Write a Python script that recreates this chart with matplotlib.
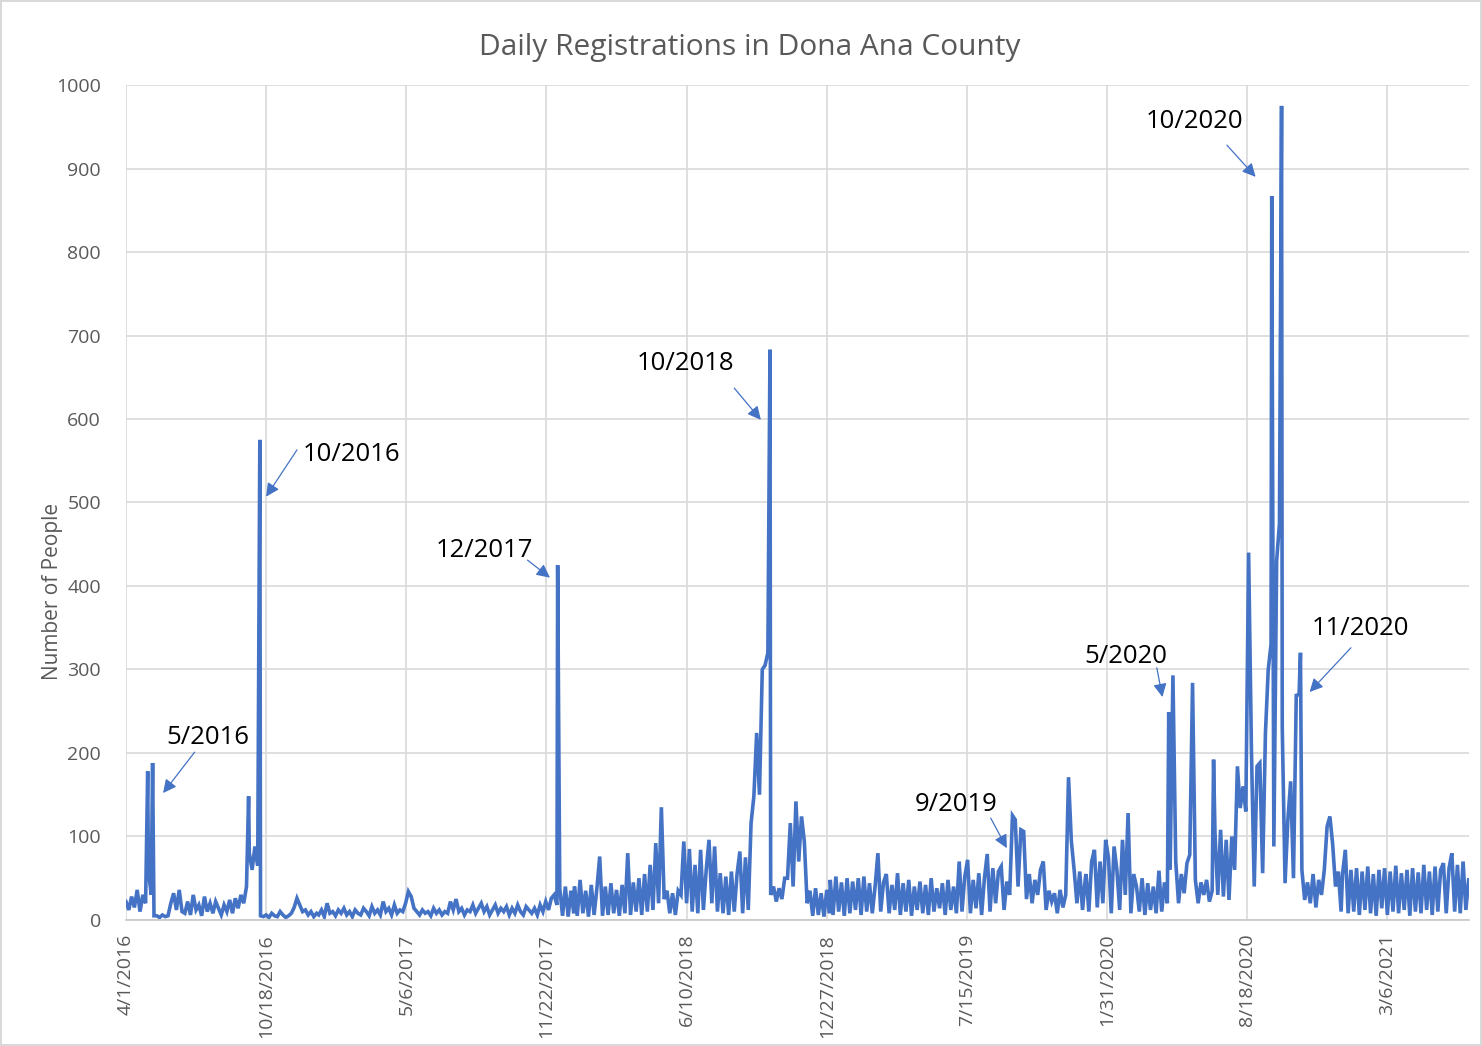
import pandas as pd
import matplotlib
matplotlib.use("Agg")
import matplotlib.pyplot as plt

vals_2016 = [22, 12, 28, 15, 36, 10, 30, 20,
             60, 30, 5,
             5, 3, 6, 4, 5,
             20, 32, 12, 36, 10,
             8, 22, 6, 30, 12, 18, 5, 28, 10, 20, 8, 22, 14, 6, 18, 10, 24, 8, 26, 14, 30, 20,
             40, 80, 60, 88, 65,
             5, 4, 6, 3, 8, 5, 4, 10, 6, 3, 5, 8, 15, 26, 18, 10, 12, 6, 10, 4, 8]
vals_2017 = [6, 12, 4, 20, 8, 10, 5, 12,
             8, 14, 6, 10, 4, 12, 8,
             6, 14, 10, 5, 16, 8, 12, 6,
             22, 10, 14, 6, 18, 8, 12, 10,
             20, 34, 28, 14, 10, 6, 12, 8,
             10, 5, 14, 8, 12, 6, 10,
             8, 22, 12, 25, 10, 14, 6, 12,
             10, 18, 8, 14, 20, 10, 16, 6,
             12, 18, 8, 14, 10, 16, 6,
             14, 8, 18, 10, 6, 16, 12, 8,
             14, 6, 18, 10, 22, 12, 26,
             30, 18, 38, 5, 40, 4, 35, 8]
vals_2018 = [40, 5, 48, 8, 35, 4, 42, 6,
             38, 76, 5, 40, 6, 44, 8,
             36, 5, 42, 8, 80, 6, 45, 10,
             50, 6, 55, 10, 66, 12, 92,
             20, 135, 25, 35, 8, 32, 6, 35,
             30, 94, 20, 85, 10, 66, 8,
             84, 12, 60, 96, 20, 88, 10, 56,
             8, 52, 6, 58, 10, 55, 82, 8,
             75, 12, 116, 148, 224, 150, 300,
             305, 320, 30, 40, 22, 38, 25, 50,
             50, 116, 40, 142, 70, 124, 94, 20,
             35, 5, 38, 6, 32, 4, 36, 8]
vals_2019 = [48, 6, 52, 10, 45, 5, 50, 8,
             46, 12, 50, 6, 52, 10, 44, 8,
             40, 80, 10, 45, 55, 8, 42, 12,
             56, 6, 44, 10, 48, 5, 40, 12,
             46, 8, 42, 6, 50, 10, 38, 14,
             44, 6, 48, 12, 40, 8, 70, 10,
             52, 72, 8, 48, 14, 56, 6, 50,
             79, 10, 62, 20, 58, 64, 12, 46,
             30, 125, 120, 40, 108, 106, 25, 55,
             20, 48, 30, 60, 70, 12, 35, 22,
             32, 8, 36, 15, 30, 171, 95, 60,
             20, 58, 12, 50]
vals_2020 = [55, 10, 70, 84, 15, 70, 20, 96,
             75, 8, 88, 60, 12, 96, 30, 128,
             8, 55, 40, 10, 50, 6, 44, 12,
             40, 8, 59, 10, 45, 20, 60, 12,
             70, 20, 55, 32, 68, 78, 25, 48,
             20, 45, 30, 48, 22, 35, 104, 30,
             108, 28, 96, 24, 100, 60, 184, 134,
             160, 130, 150, 204, 40, 184, 188, 56,
             224, 300, 330, 88, 430, 475, 231, 44,
             120, 166, 50, 269, 270, 60, 24, 45,
             20, 55, 15, 48, 30, 60, 112, 124,
             90, 40, 58, 10]
vals_2021 = [55, 84, 8, 60, 10, 62, 6, 58,
             12, 64, 8, 55, 5, 60, 14, 62,
             6, 58, 10, 65, 8, 56, 12, 60,
             5, 62, 10, 57, 8, 66, 12, 58,
             6, 64, 10, 60, 68, 8, 62, 80,
             10, 66, 8, 70, 12, 48]

segments = [("2016-04-01", vals_2016), ("2017-01-01", vals_2017),
            ("2018-01-01", vals_2018), ("2019-01-01", vals_2019),
            ("2020-01-01", vals_2020), ("2021-01-01", vals_2021)]

# single-day spikes
peak_dates = ["2016-05-02", "2016-05-09", "2016-09-23", "2016-10-09", "2017-12-08",
              "2018-10-07", "2020-04-28", "2020-05-04", "2020-06-01", "2020-07-01",
              "2020-08-20", "2020-09-22", "2020-10-06", "2020-11-02"]
peak_values = [178, 188, 148, 575, 425, 683, 249, 293, 284, 192, 440, 867, 975, 320]

# annotations: label, text centre, arrow tail, arrow head (date, value)
notes = [("5/2016", ("2016-07-27", 218), ("2016-07-08", 201), ("2016-05-24", 152)),
         ("10/2016", ("2017-02-17", 557), ("2016-12-01", 563), ("2016-10-18", 507)),
         ("12/2017", ("2017-08-25", 442), ("2017-10-26", 431), ("2017-11-27", 410)),
         ("10/2018", ("2018-06-08", 666), ("2018-08-17", 637), ("2018-09-24", 599)),
         ("9/2019", ("2019-06-29", 138), ("2019-08-18", 122), ("2019-09-10", 86)),
         ("5/2020", ("2020-02-27", 315), ("2020-04-11", 302), ("2020-04-19", 267)),
         ("10/2020", ("2020-06-04", 956), ("2020-07-20", 928), ("2020-08-30", 890)),
         ("11/2020", ("2021-01-27", 349), ("2021-01-13", 326), ("2020-11-15", 273))]

parts = [pd.Series(v, index=pd.date_range(s, periods=len(v), freq="4D")) for s, v in segments]
parts.append(pd.Series(peak_values, index=pd.to_datetime(peak_dates)))
daily = pd.concat(parts).groupby(level=0).max().sort_index()

plt.rcParams['font.family'] = ['Open Sans', 'DejaVu Sans']
gray = "#595959"

fig = plt.figure(figsize=(14.82, 10.46), dpi=100)
fig.patch.set_edgecolor("#d9d9d9")
fig.patch.set_linewidth(1.5)
ax = fig.add_axes([0.085, 0.1205, 0.906, 0.7982])

ax.plot(daily.index, daily.values, color="#4472C4", lw=2.6, solid_joinstyle="miter")

start = pd.Timestamp("2016-04-01")
end = pd.Timestamp("2021-06-30")
ax.set_xlim(start, end)
ax.set_ylim(0, 1000)
ticks = pd.date_range(start, end, freq="200D")
ax.set_xticks(ticks)
ax.set_xticklabels([f"{t.month}/{t.day}/{t.year}" for t in ticks], rotation=90,
                   fontsize=14, color=gray)
ax.set_yticks(range(0, 1001, 100))
ax.tick_params(axis="y", labelsize=14, labelcolor=gray, length=0, pad=18)
ax.tick_params(axis="x", length=0, pad=10)
ax.grid(True, color="#d9d9d9", lw=1.2)
ax.set_axisbelow(True)
for side in ["top", "right", "left"]:
    ax.spines[side].set_visible(False)
ax.spines["bottom"].set_color("#c8c8c8")
ax.spines["bottom"].set_linewidth(1.2)

ax.set_ylabel("Number of People", fontsize=15, color=gray)
ax.yaxis.set_label_coords(-0.047, 0.394)
fig.text(0.506, 0.955, "Daily Registrations in Dona Ana County", fontsize=21.5,
         color=gray, ha="center", va="center")

for label, (td, tv), (ad, av), (hd, hv) in notes:
    ax.text(pd.Timestamp(td), tv, label, fontsize=18.5, color="black", ha="center", va="center")
    ax.annotate("", xy=(pd.Timestamp(hd), hv), xytext=(pd.Timestamp(ad), av),
                arrowprops=dict(arrowstyle="-|>", color="#4472C4", lw=0.9,
                                mutation_scale=20, shrinkA=0, shrinkB=0))

fig.savefig("out.png", dpi=100, edgecolor=fig.get_edgecolor())
